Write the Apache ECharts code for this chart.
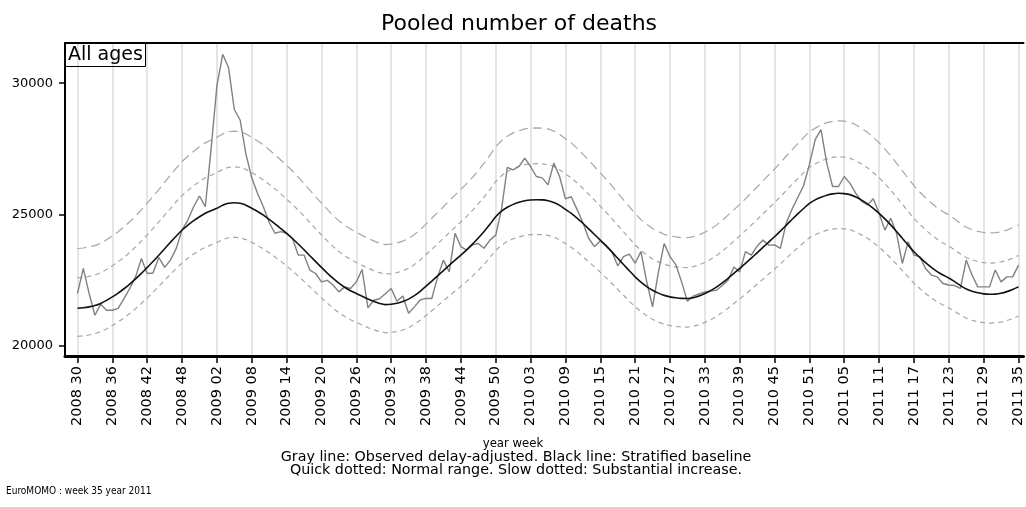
<!DOCTYPE html>
<html><head><meta charset="utf-8">
<script src="https://cdn.jsdelivr.net/npm/echarts@6/dist/echarts.min.js"></script>
<style>html,body{margin:0;padding:0;background:#fff}#c{width:1026px;height:507px}</style>
</head><body><div id="c"></div>
<script>
// ---- data ----
const yearSpans = [[2008, 30, 52], [2009, 1, 53], [2010, 1, 52], [2011, 1, 35]];
const tickLabels = ["2008 30","2008 36","2008 42","2008 48","2009 02","2009 08","2009 14","2009 20","2009 26","2009 32","2009 38","2009 44","2009 50","2010 03","2010 09","2010 15","2010 21","2010 27","2010 33","2010 39","2010 45","2010 51","2011 05","2011 11","2011 17","2011 23","2011 29","2011 35"];
const yTicks = [20000, 25000, 30000];

const observed = [
21998,22952,22000,21171,21590,21361,21361,21430,21800,22190,
22630,23330,22760,22780,23370,22990,23270,23715,24413,24794,
25300,25709,25301,27500,29900,31100,30600,29000,28600,27300,
26400,25800,25300,24700,24290,24350,24290,24100,23460,23460,
22890,22760,22440,22500,22320,22060,22250,22190,22440,22910,
21450,21740,21800,21990,22190,21700,21900,21250,21490,21750,
21810,21810,22630,23270,22820,24290,23780,23650,23850,23900,
23720,24030,24220,25200,26800,26700,26830,27150,26830,26450,
26400,26130,26960,26450,25600,25680,25200,24700,24100,23780,
24000,23840,23590,23050,23400,23500,23150,23590,22440,21490,
22800,23900,23400,23100,22440,21700,21900,21980,22060,22100,
22120,22300,22500,23010,22820,23590,23460,23800,24030,23840,
23850,23715,24670,25200,25650,26100,26900,27850,28230,26950,
26070,26070,26450,26190,25810,25500,25370,25600,25050,24410,
24860,24290,23140,23970,23460,23400,22950,22700,22630,22380,
22320,22300,22190,23270,22700,22250,22250,22250,22890,22440,
22630,22630,23080];

const baseline = [
21438,21458,21490,21540,21620,21735,21869,22014,22179,22359,
22554,22764,22990,23215,23455,23700,23945,24185,24413,24598,
24768,24918,25050,25150,25240,25360,25430,25454,25430,25360,
25240,25120,24980,24820,24650,24470,24287,24092,23882,23662,
23437,23212,22990,22775,22575,22395,22235,22105,21998,21890,
21790,21700,21620,21575,21590,21625,21690,21785,21915,22080,
22277,22472,22672,22872,23072,23267,23460,23660,23875,24110,
24360,24630,24920,25130,25280,25390,25470,25525,25557,25565,
25560,25530,25460,25350,25200,25050,24870,24670,24460,24245,
24031,23811,23581,23341,23101,22866,22632,22432,22262,22122,
22012,21927,21869,21835,21812,21808,21840,21905,21998,22108,
22243,22403,22578,22763,22951,23141,23341,23546,23751,23956,
24157,24372,24592,24812,25027,25232,25431,25560,25660,25740,
25790,25810,25800,25760,25670,25550,25410,25240,25050,24840,
24610,24360,24100,23840,23585,23370,23170,22990,22830,22700,
22590,22450,22300,22170,22085,22025,21985,21968,21975,22010,
22070,22150,22250];

const upperSubstantial = [
23710,23730,23770,23820,23910,24040,24190,24350,24530,24730,
24950,25180,25440,25690,25950,26230,26500,26770,27020,27220,
27410,27580,27730,27840,27940,28070,28150,28180,28150,28070,
27940,27800,27650,27470,27280,27080,26880,26660,26430,26180,
25930,25680,25440,25200,24970,24770,24600,24450,24330,24210,
24100,24000,23910,23860,23880,23920,23990,24090,24240,24420,
24640,24860,25080,25300,25530,25740,25960,26180,26420,26680,
26960,27260,27580,27820,27980,28110,28190,28260,28290,28300,
28290,28260,28180,28060,27890,27730,27530,27300,27070,26830,
26590,26350,26090,25830,25560,25300,25040,24810,24630,24470,
24350,24250,24190,24150,24120,24120,24160,24230,24330,24450,
24600,24780,24980,25180,25390,25600,25830,26050,26280,26510,
26730,26970,27220,27460,27700,27930,28150,28290,28410,28500,
28550,28570,28560,28520,28420,28280,28130,27940,27730,27490,
27240,26960,26670,26380,26100,25860,25640,25440,25260,25110,
24990,24830,24670,24520,24430,24360,24320,24300,24310,24340,
24410,24500,24610];

const upperNormal = [
22590,22620,22650,22700,22790,22910,23050,23200,23370,23560,
23770,23990,24230,24470,24720,24980,25230,25490,25730,25920,
26100,26260,26400,26500,26600,26720,26800,26820,26800,26720,
26600,26470,26320,26150,25980,25790,25590,25390,25170,24940,
24700,24460,24230,24000,23790,23600,23430,23300,23180,23070,
22970,22870,22790,22740,22750,22790,22860,22960,23100,23270,
23480,23680,23890,24100,24310,24520,24720,24930,25160,25410,
25670,25950,26260,26480,26640,26750,26840,26900,26930,26940,
26930,26900,26830,26710,26550,26400,26210,26000,25780,25550,
25320,25090,24850,24600,24350,24100,23850,23640,23460,23310,
23200,23110,23050,23010,22990,22980,23020,23090,23180,23300,
23440,23610,23790,23990,24190,24390,24600,24810,25030,25240,
25460,25680,25910,26150,26370,26590,26800,26930,27040,27120,
27180,27200,27190,27140,27050,26920,26780,26600,26400,26180,
25930,25670,25400,25120,24850,24630,24420,24230,24060,23920,
23810,23660,23500,23370,23280,23210,23170,23150,23160,23200,
23260,23340,23450];

const lowerNormal = [
20370,20390,20420,20470,20550,20650,20780,20910,21070,21240,
21420,21620,21830,22040,22270,22500,22730,22950,23160,23340,
23500,23640,23760,23850,23940,24050,24120,24140,24120,24050,
23940,23830,23700,23550,23390,23220,23050,22860,22670,22460,
22250,22040,21830,21630,21440,21270,21120,21000,20900,20800,
20700,20620,20550,20500,20520,20550,20610,20700,20820,20980,
21160,21340,21530,21720,21910,22090,22270,22460,22660,22880,
23110,23370,23640,23840,23980,24080,24150,24210,24240,24240,
24240,24210,24150,24040,23900,23760,23590,23400,23210,23010,
22810,22600,22380,22160,21930,21710,21490,21310,21150,21020,
20910,20830,20780,20750,20720,20720,20750,20810,20900,21000,
21130,21280,21440,21620,21790,21970,22160,22350,22540,22740,
22920,23130,23330,23540,23740,23930,24120,24240,24330,24410,
24450,24470,24460,24430,24340,24230,24100,23940,23760,23560,
23350,23110,22870,22630,22390,22190,22000,21830,21680,21560,
21450,21320,21180,21060,20980,20920,20890,20870,20880,20910,
20970,21040,21140];

// ---- build ----
const weeks = [];
yearSpans.forEach(([y, a, b]) => { for (let w = a; w <= b; w++) weeks.push(y + ' ' + String(w).padStart(2, '0')); });
const tickIdx = tickLabels.map(l => weeks.indexOf(l));
const pairs = arr => arr.map((v, i) => [i, v]);

const COND = "'DejaVu Sans Condensed',sans-serif";
const WIDE = "'DejaVu Sans',sans-serif";
const XMIN = -2.15, XMAX = 162.86;

const chart = echarts.init(document.getElementById('c'), null, {renderer: 'canvas'});
chart.setOption({
  animation: false,
  backgroundColor: '#fff',
  title: [
    {text: 'Pooled number of deaths', left: 514, top: 8, textAlign: 'center',
     textStyle: {fontFamily: WIDE, fontSize: 22, fontWeight: 'normal', color: '#000'}},
    {text: 'All ages', left: 65, top: 43, padding: [2, 3, 2, 3], borderWidth: 1, borderColor: '#000',
     textStyle: {fontFamily: WIDE, fontSize: 19, lineHeight: 20, fontWeight: 'normal', color: '#000'}},
    {text: 'year week', left: 513, top: 437, textAlign: 'center', padding: 0,
     textStyle: {fontFamily: COND, fontSize: 13, fontWeight: 'normal', color: '#000'}},
    {text: 'Gray line: Observed delay-adjusted. Black line: Stratified baseline\nQuick dotted: Normal range. Slow dotted: Substantial increase.',
     left: 516, top: 451, textAlign: 'center', padding: 0,
     textStyle: {fontFamily: WIDE, fontSize: 14.3, lineHeight: 13, fontWeight: 'normal', color: '#000', align: 'center'}},
    {text: 'EuroMOMO : week 35 year 2011', left: 6, top: 486, padding: 0,
     textStyle: {fontFamily: COND, fontSize: 10, fontWeight: 'normal', color: '#000'}}
  ],
  grid: {left: 65, right: 0, top: 43, bottom: 151, containLabel: false},
  xAxis: [{
    type: 'value', min: XMIN, max: XMAX,
    axisLine: {show: true, onZero: false, lineStyle: {color: '#000', width: 3}},
    axisTick: {show: true, length: 7, customValues: tickIdx, lineStyle: {color: '#000', width: 1.5}},
    axisLabel: {show: true, customValues: tickIdx, rotate: 90, margin: 10,
      fontFamily: WIDE, fontSize: 14.5, color: '#000',
      formatter: v => weeks[Math.round(v)]},
    splitLine: {show: true, lineStyle: {color: '#dcdcdc', width: 1.5}}
  }, {
    type: 'value', position: 'top', min: XMIN, max: XMAX,
    axisLine: {show: true, onZero: false, lineStyle: {color: '#000', width: 2}},
    axisTick: {show: false}, axisLabel: {show: false}, splitLine: {show: false}
  }],
  yAxis: {
    type: 'value', min: 19620, max: 31530,
    axisLine: {show: true, onZero: false, lineStyle: {color: '#000', width: 2}},
    axisTick: {show: true, length: 6, customValues: yTicks, lineStyle: {color: '#000', width: 1.5}},
    axisLabel: {show: true, customValues: yTicks, margin: 12, fontFamily: WIDE, fontSize: 13, color: '#000',
      formatter: v => String(v)},
    splitLine: {show: false}
  },
  series: [
    {name: 'Substantial increase', type: 'line', data: pairs(upperSubstantial), symbol: 'none',
     lineStyle: {color: '#a6a6a6', width: 1.2, type: [9, 5]}, z: 2},
    {name: 'Normal range upper', type: 'line', data: pairs(upperNormal), symbol: 'none',
     lineStyle: {color: '#a6a6a6', width: 1.2, type: [5, 4]}, z: 2},
    {name: 'Normal range lower', type: 'line', data: pairs(lowerNormal), symbol: 'none',
     lineStyle: {color: '#a6a6a6', width: 1.2, type: [5, 4]}, z: 2},
    {name: 'Observed', type: 'line', data: pairs(observed), symbol: 'none',
     lineStyle: {color: '#808080', width: 1.4}, z: 3},
    {name: 'Baseline', type: 'line', data: pairs(baseline), symbol: 'none', smooth: 0.3,
     lineStyle: {color: '#111', width: 1.6}, z: 4}
  ]
});
</script></body></html>
